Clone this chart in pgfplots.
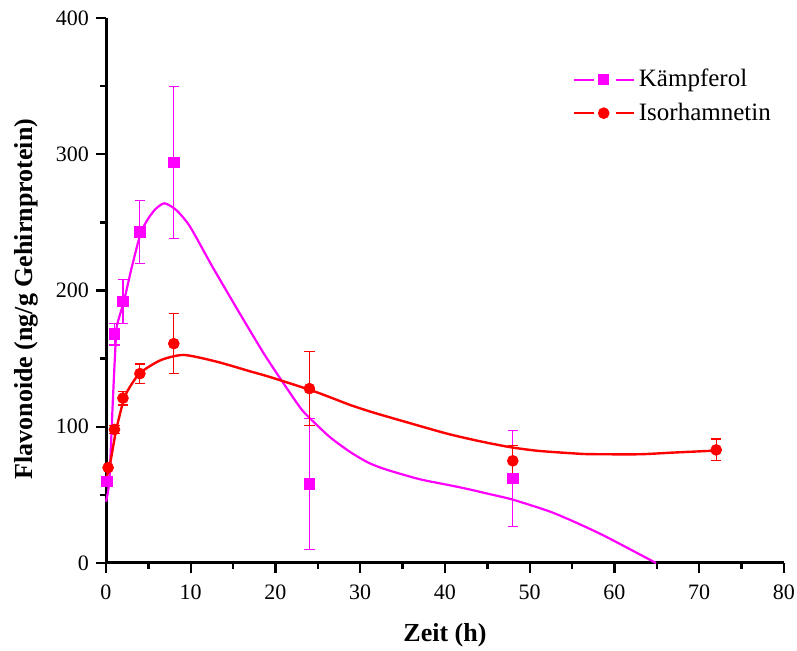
\documentclass[border=0pt]{standalone}
\usepackage{fontspec}
\setmainfont{Liberation Serif}
\usepackage{pgfplots}
\pgfplotsset{compat=1.18}

\definecolor{kmag}{RGB}{255,0,255}
\definecolor{ired}{RGB}{255,0,0}

% measured points: x, mean, error
\pgfplotstableread{
x     y     e
0.1   60    0
1     168   8
2     192   16
4     243   23
8     294   56
24    58    48
48    62    35
}\kaempferol

\pgfplotstableread{
x     y     e
0.25  70    0
1     98    3
2     121   5
4     139   7
8     161   22
24    128   27
48    75    11
72    83    8
}\isorhamnetin

\begin{document}
\begin{tikzpicture}
\useasboundingbox (-53pt,-44pt) rectangle (345.5pt,281.5pt);
\begin{axis}[
  scale only axis,width=339pt,height=272.5pt,
  xmin=0,xmax=80,ymin=0,ymax=400,
  axis lines*=left,axis line style={line width=1.5pt},
  xtick={0,10,...,80},ytick={0,100,...,400},
  minor tick num=1,
  tick align=outside,
  major tick length=5pt,minor tick length=3pt,
  tick style={line width=1.2pt,black},
  /pgf/number format/assume math mode=true,
  ticklabel style={font=\fontsize{11}{13}\selectfont},
  xticklabel style={yshift=-2.5pt},
  label style={font=\fontsize{13}{15}\selectfont\bfseries},
  xlabel={Zeit (h)},
  ylabel={Flavonoide (ng/g Gehirnprotein)},
  xlabel style={at={(axis description cs:0.5,-0.132)},anchor=center},
  ylabel style={at={(axis description cs:-0.118,0.484)},anchor=center},
  legend style={at={(axis cs:55.0,365.5)},anchor=north west,draw=none,fill=none,
    inner sep=0pt,row sep=2.5pt,font=\fontsize{12.5}{15}\selectfont},
  legend cell align=left,
  clip=false,
]
% fitted curves
\addplot[kmag,line width=1.1pt,smooth,tension=0.4,forget plot] coordinates {
 (0,45) (0.4,61) (0.8,118) (1.2,169) (1.45,178) (2.15,193) (3.0,216)
 (4.0,240) (4.8,251) (5.8,259.5) (6.9,264) (8.3,259) (9.9,247) (12.6,217)
 (15.8,183) (18.9,151) (22.8,115) (24.1,106) (26.4,92.5) (28.8,81.5)
 (31,73.5) (33.1,68.5) (37,61.5) (40.6,57) (42.9,54) (45.3,50.5) (48,46.5)
 (52.4,37.7) (55.7,29) (59,19.3) (64.9,0)};
\addplot[ired,line width=1.2pt,smooth,tension=0.4,forget plot] coordinates {
 (0,62) (0.4,70) (1.2,97.6) (2.15,121) (3.0,131) (4.1,140) (6.5,149)
 (9.2,152.7) (13.1,147.7) (17.1,140.5) (19.35,136.5) (24.1,127) (26.5,121.5)
 (28.8,116) (31.5,110.5) (35.1,104) (40.2,95) (44,89.5) (47.7,85)
 (51,82.3) (54.8,80.6) (57,79.9) (62.9,79.8) (66.8,81) (72,82.5)};
% measured means with error bars
\addplot[kmag,only marks,mark=square*,mark size=2.6pt,
  error bars/.cd,y dir=both,y explicit,
  error bar style={line width=0.6pt,kmag},
  error mark options={rotate=90,mark size=2.6pt,line width=0.6pt,kmag},
  /pgfplots/legend image code/.code={
    \draw[kmag,line width=1.1pt] (0pt,0pt) -- (10pt,0pt) (21pt,0pt) -- (30pt,0pt);
    \fill[kmag] (12.5pt,-2.5pt) rectangle (17.5pt,2.5pt);}]
  table[x=x,y=y,y error=e] {\kaempferol};
\addlegendentry{Kämpferol}
\addplot[ired,only marks,mark=*,mark size=2.7pt,
  error bars/.cd,y dir=both,y explicit,
  error bar style={line width=0.6pt,ired},
  error mark options={rotate=90,mark size=2.6pt,line width=0.6pt,ired},
  /pgfplots/legend image code/.code={
    \draw[ired,line width=1.2pt] (0pt,0pt) -- (10pt,0pt) (21pt,0pt) -- (30pt,0pt);
    \fill[ired] (15pt,0pt) circle (2.7pt);}]
  table[x=x,y=y,y error=e] {\isorhamnetin};
\addlegendentry{Isorhamnetin}
\end{axis}
\end{tikzpicture}
\end{document}
